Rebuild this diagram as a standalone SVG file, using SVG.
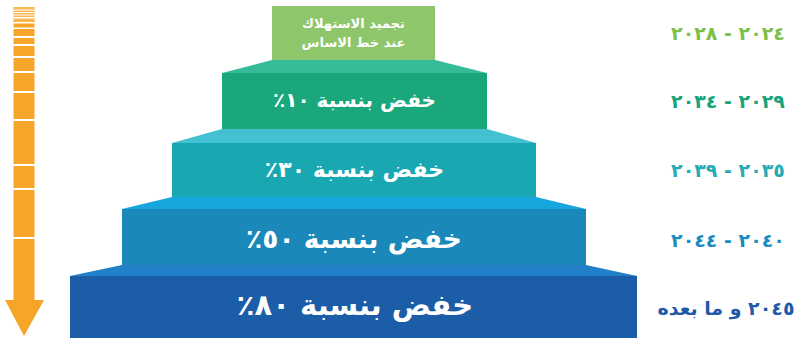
<svg xmlns="http://www.w3.org/2000/svg" width="794" height="338" viewBox="0 0 794 338">
<style>
.t{font-family:"DejaVu Sans",sans-serif;font-weight:bold;fill:#ffffff;text-anchor:middle;direction:rtl}
.y{font-family:"DejaVu Sans",sans-serif;font-weight:bold;font-size:19px;text-anchor:middle;direction:rtl}
.d{letter-spacing:2.5px}
.gap{fill:#ffffff}
</style>
<rect width="794" height="338" fill="#ffffff"/>
<g id="arrow">
<polygon points="13.5,7 34.5,7 34.5,300 44,300 24,336 5,300 13.5,300" fill="#f7a529"/>
<rect x="13.5" y="7" width="21" height="16" fill="#fbc46e" opacity="0.6"/>
<g class="gap">
<rect x="13" y="9.5" width="22" height="1"/>
<rect x="13" y="12" width="22" height="1"/>
<rect x="13" y="14.5" width="22" height="1"/>
<rect x="13" y="17" width="22" height="1.5"/>
<rect x="13" y="22" width="22" height="1.5"/>
<rect x="13" y="27.5" width="22" height="1.5"/>
<rect x="13" y="36" width="22" height="2"/>
<rect x="13" y="44" width="22" height="2"/>
<rect x="13" y="56" width="22" height="2"/>
<rect x="13" y="71" width="22" height="2"/>
<rect x="13" y="91" width="22" height="2"/>
<rect x="13" y="119" width="22" height="2"/>
<rect x="13" y="164" width="22" height="2"/>
<rect x="13" y="188" width="22" height="2"/>
<rect x="13" y="237" width="22" height="2"/>
</g>
</g>
<g id="step0">
<rect x="272" y="6" width="163" height="54" fill="#8dc66b"/>
<text class="t" x="353.5" y="28" font-size="13">تجميد الاستهلاك</text>
<text class="t" x="353.5" y="47" font-size="13">عند خط الاساس</text>
</g>
<g id="step1">
<polygon points="272,60 435,60 487,73 222,73" fill="#36bb99"/>
<rect x="222" y="73" width="265" height="56" fill="#1aa77c"/>
<text class="t" x="354.5" y="107" font-size="20">خفض بنسبة ١٠٪</text>
</g>
<g id="step2">
<polygon points="222,129 487,129 536,143 172,143" fill="#43c1d2"/>
<rect x="172" y="143" width="364" height="54" fill="#19a8b2"/>
<text class="t" x="354.5" y="177" font-size="22">خفض بنسبة ٣٠٪</text>
</g>
<g id="step3">
<polygon points="172,197 536,197 586,209 122,209" fill="#16a5dc"/>
<rect x="122" y="209" width="464" height="56" fill="#1b88ba"/>
<text class="t" x="354" y="248" font-size="26.5">خفض بنسبة ٥٠٪</text>
</g>
<g id="step4">
<polygon points="122,265 586,265 637,276 70,276" fill="#2180c8"/>
<rect x="70" y="276" width="567" height="62" fill="#1c5da7"/>
<text class="t" x="355" y="315" font-size="29">خفض بنسبة ٨٠٪</text>
</g>
<g id="years">
<text class="y d" x="728" y="40" fill="#7cc04a">٢٠٢٤ - ٢٠٢٨</text>
<text class="y d" x="728" y="108" fill="#1aa37a">٢٠٢٩ - ٢٠٣٤</text>
<text class="y d" x="728" y="177" fill="#27abb5">٢٠٣٥ - ٢٠٣٩</text>
<text class="y d" x="728" y="247" fill="#1c8cc0">٢٠٤٠ - ٢٠٤٤</text>
<text class="y" x="726" y="315" font-size="18.5" fill="#1f5aa8">٢٠٤٥ و ما بعده</text>
</g>
</svg>
